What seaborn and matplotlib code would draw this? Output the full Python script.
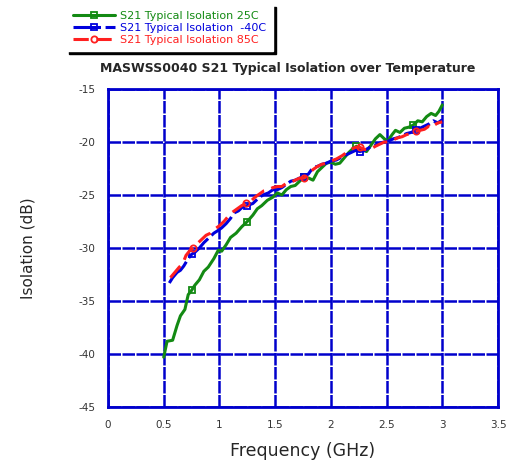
import matplotlib
matplotlib.use("Agg")
import matplotlib.pyplot as plt
import seaborn as sns
import pandas as pd

# 25C trace
freq_25 = [0.50, 0.53, 0.58, 0.62, 0.65, 0.69, 0.72, 0.75, 0.78, 0.82, 0.86, 0.90, 0.95, 0.99,
           1.02, 1.06, 1.10, 1.15, 1.20, 1.25, 1.30, 1.34, 1.38, 1.43, 1.48, 1.52, 1.56, 1.60,
           1.64, 1.68, 1.72, 1.76, 1.80, 1.84, 1.88, 1.92, 1.96, 2.00, 2.04, 2.08, 2.12, 2.16,
           2.20, 2.23, 2.27, 2.32, 2.36, 2.40, 2.44, 2.48, 2.51, 2.55, 2.58, 2.62, 2.66, 2.70,
           2.74, 2.78, 2.82, 2.86, 2.90, 2.94, 2.97, 3.00]
iso_25 = [-40.3, -38.8, -38.7, -37.3, -36.4, -35.8, -34.4, -34.0, -33.5, -33.0, -32.2, -31.8, -31.0, -30.2,
          -30.3, -29.7, -29.0, -28.6, -28.0, -27.5, -26.9, -26.3, -26.0, -25.5, -25.2, -24.8, -25.0, -24.5,
          -24.2, -24.1, -23.7, -23.3, -23.4, -23.6, -22.8, -22.4, -22.0, -21.9, -22.1, -22.0, -21.5, -21.0,
          -20.6, -20.4, -20.7, -20.9, -20.3, -19.7, -19.3, -19.7, -19.9, -19.3, -18.9, -19.1, -18.7, -18.6,
          -18.4, -18.0, -18.1, -17.6, -17.3, -17.5, -17.1, -16.5]

# -40C trace
freq_m40 = [0.55, 0.58, 0.62, 0.65, 0.68, 0.72, 0.75, 0.78, 0.82, 0.86, 0.90, 0.95, 0.98, 1.02,
            1.06, 1.10, 1.13, 1.17, 1.21, 1.25, 1.30, 1.35, 1.39, 1.44, 1.48, 1.52, 1.56, 1.60,
            1.64, 1.68, 1.72, 1.76, 1.80, 1.84, 1.88, 1.92, 1.96, 2.00, 2.05, 2.10, 2.14, 2.18,
            2.22, 2.26, 2.30, 2.35, 2.40, 2.44, 2.48, 2.52, 2.56, 2.60, 2.64, 2.68, 2.72, 2.76,
            2.80, 2.84, 2.88, 2.92, 2.96, 3.00]
iso_m40 = [-33.3, -32.8, -32.3, -32.1, -31.7, -31.0, -30.6, -30.4, -30.0, -29.5, -29.1, -28.6, -28.4, -28.1,
           -27.7, -27.2, -26.7, -26.5, -26.1, -26.0, -25.8, -25.3, -25.0, -24.8, -24.5, -24.5, -24.3, -24.0,
           -23.7, -23.6, -23.4, -23.3, -23.0, -22.4, -22.3, -22.1, -22.0, -21.8, -21.7, -21.4, -21.2, -21.0,
           -20.8, -20.9, -20.8, -20.5, -20.3, -20.1, -20.0, -19.9, -19.7, -19.6, -19.4, -19.2, -19.1, -18.9,
           -18.7, -18.5, -18.3, -18.0, -18.2, -17.9]

# 85C trace
freq_85 = [0.56, 0.60, 0.64, 0.67, 0.70, 0.73, 0.76, 0.80, 0.84, 0.88, 0.92, 0.96, 1.00, 1.04,
           1.08, 1.12, 1.16, 1.20, 1.24, 1.28, 1.32, 1.36, 1.40, 1.44, 1.48, 1.52, 1.56, 1.60,
           1.64, 1.68, 1.72, 1.76, 1.80, 1.84, 1.88, 1.92, 1.96, 2.00, 2.05, 2.10, 2.14, 2.18,
           2.22, 2.26, 2.30, 2.35, 2.40, 2.44, 2.48, 2.52, 2.56, 2.60, 2.64, 2.68, 2.72, 2.76,
           2.80, 2.84, 2.88, 2.90, 2.93, 2.96, 3.00]
iso_85 = [-32.8, -32.3, -31.8, -31.5, -30.7, -30.3, -30.0, -29.6, -29.2, -28.8, -28.6, -28.2, -27.9, -27.5,
          -27.0, -26.6, -26.3, -26.0, -25.8, -25.6, -25.2, -24.9, -24.6, -24.5, -24.3, -24.2, -24.2, -23.9,
          -23.8, -23.6, -23.4, -23.4, -23.0, -22.6, -22.3, -22.1, -22.0, -21.8, -21.6, -21.3, -21.0, -20.7,
          -20.5, -20.5, -20.7, -20.7, -20.4, -20.2, -20.0, -20.0, -19.8, -19.6, -19.5, -19.3, -19.2, -19.0,
          -18.9, -18.8, -18.5, -18.7, -18.4, -18.2, -18.1]

labels = ["S21 Typical Isolation 25C", "S21 Typical Isolation  -40C", "S21 Typical Isolation 85C"]
x_ticks = [0, 0.5, 1, 1.5, 2, 2.5, 3, 3.5]
x_ticklabels = ["0", "0.5", "1", "1.5", "2", "2.5", "3", "3.5"]
y_ticks = [-45, -40, -35, -30, -25, -20, -15]

sns.set_style("white")
plt.rcParams['font.family'] = ['DejaVu Sans']
plt.rcParams['axes.unicode_minus'] = False

fig = plt.figure(figsize=(5.16, 4.66), dpi=100)
ax = fig.add_axes([0.2093, 0.1266, 0.7558, 0.6824])

grid_blue = "#0000cc"
for x in x_ticks:
    ax.axvline(x, color=grid_blue, lw=1.8, ls=(0, (5, 0.6)), zorder=0)
for y in y_ticks:
    ax.axhline(y, color=grid_blue, lw=1.8, ls=(0, (5, 0.6)), zorder=0)

def mark_idx(freqs):
    out = []
    for t in [0.75, 1.25, 1.75, 2.25, 2.75]:
        out.append(min(range(len(freqs)), key=lambda i: abs(freqs[i] - t)))
    return out

df25 = pd.DataFrame({"f": freq_25, "v": iso_25})
dfm40 = pd.DataFrame({"f": freq_m40, "v": iso_m40})
df85 = pd.DataFrame({"f": freq_85, "v": iso_85})

sns.lineplot(data=df25, x="f", y="v", ax=ax, color="#138a13", lw=2.2, sort=False,
             marker="s", markevery=mark_idx(freq_25), markersize=5, markerfacecolor="none",
             markeredgecolor="#138a13", markeredgewidth=1.3, label=labels[0])
sns.lineplot(data=dfm40, x="f", y="v", ax=ax, color="#0000dd", lw=2.2, sort=False,
             dashes=False, linestyle=(0, (9, 1.5)),
             marker="s", markevery=mark_idx(freq_m40), markersize=5, markerfacecolor="none",
             markeredgecolor="#0000dd", markeredgewidth=1.3, label=labels[1])
sns.lineplot(data=df85, x="f", y="v", ax=ax, color="#ff2020", lw=2.2, sort=False,
             dashes=False, linestyle=(0, (5, 2.5)),
             marker="o", markevery=mark_idx(freq_85), markersize=4.5, markerfacecolor="none",
             markeredgecolor="#ff2020", markeredgewidth=1.3, label=labels[2])

ax.set_xlim(0, 3.5)
ax.set_ylim(-45, -15)
ax.set_xticks(x_ticks)
ax.set_xticklabels(x_ticklabels)
ax.set_yticks(y_ticks)
ax.tick_params(axis="both", length=0, labelsize=7.5, colors="#333333", pad=9)
for s in ax.spines.values():
    s.set_color(grid_blue)
    s.set_linewidth(2)

ax.set_xlabel("Frequency (GHz)", fontsize=12.5, labelpad=9)
ax.set_ylabel("Isolation (dB)", fontsize=11, labelpad=31)
ax.set_title("MASWSS0040 S21 Typical Isolation over Temperature", fontsize=9, fontweight="bold",
             pad=12, x=0.46)

leg = ax.legend(loc="upper left", bbox_to_anchor=(0.128, 0.99), bbox_transform=fig.transFigure,
                frameon=True, fancybox=False, shadow={"color": "black", "alpha": 1},
                fontsize=8, handlelength=3.8, borderpad=0.6, labelspacing=0.15,
                handletextpad=0.5, borderaxespad=0)
leg.get_frame().set_edgecolor("white")
leg.get_frame().set_facecolor("white")
for txt, c in zip(leg.get_texts(), ["#138a13", "#0000dd", "#ff2020"]):
    txt.set_color(c)

fig.savefig("out.png", dpi=100)
